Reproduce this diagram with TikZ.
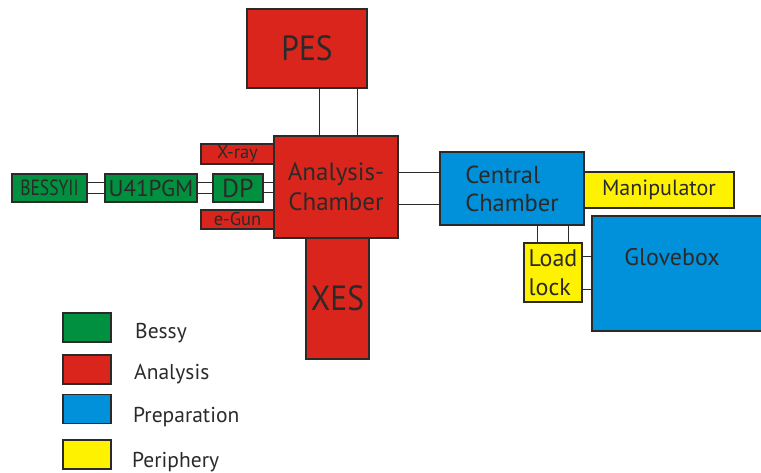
\documentclass[tikz,border=0pt]{standalone}
\usepackage{fontspec}
\setmainfont{PT Sans}
\newfontfamily\narrowfont[FakeStretch=0.8]{PT Sans}
\newfontfamily\bigfont[FakeStretch=0.9]{PT Sans}
\usetikzlibrary{calc}

\definecolor{bessygreen}{HTML}{00903F}
\definecolor{anared}{HTML}{DA251D}
\definecolor{prepblue}{HTML}{0091DA}
\definecolor{periyellow}{HTML}{FFF200}
\definecolor{ink}{HTML}{2B2A29}

\tikzset{
  box/.style={draw=ink, line width=1.3pt, inner sep=0pt, text=ink, align=center},
  bessy/.style={box, fill=bessygreen},
  analysis/.style={box, fill=anared},
  prep/.style={box, fill=prepblue},
  peri/.style={box, fill=periyellow},
  link/.style={draw=ink, line width=1pt},
  legend/.style={box, minimum width=48pt, minimum height=29pt},
  legtext/.style={anchor=base west, inner sep=0pt, text=ink, font=\fontsize{21.5}{24}\selectfont}
}

\begin{document}
\begin{tikzpicture}[x=1pt, y=-1pt]
    \useasboundingbox (0,0) rectangle (761,473);

    % Analysis part
    \node[analysis, minimum width=63pt, minimum height=121pt, font=\bigfont\fontsize{35}{37}\selectfont] (xes) at (337.5,298.5) {XES};
    \node[analysis, minimum width=120pt, minimum height=79pt, font=\bigfont\fontsize{35}{37}\selectfont] (pes) at (307,48.5) {PES};
    \node[analysis, minimum width=73pt, minimum height=20pt, font=\fontsize{18.5}{20}\selectfont] (xray) at (237.5,154) {X-ray};
    \node[analysis, minimum width=73pt, minimum height=19pt, font=\fontsize{18.5}{20}\selectfont] (egun) at (237.5,219.5) {e-Gun};
    \node[analysis, minimum width=124pt, minimum height=102pt, font=\fontsize{25}{30}\selectfont] (ac) at (336,187) {Analysis-\\Chamber};

    % Beamline
    \node[bessy, minimum width=75pt, minimum height=28pt, font=\narrowfont\fontsize{22}{24}\selectfont] (bessy) at (49.5,188) {BESSYII};
    \node[bessy, minimum width=92pt, minimum height=28pt, font=\fontsize{23}{25}\selectfont] (u41) at (151,188) {U41PGM};
    \node[bessy, minimum width=50pt, minimum height=28pt, font=\fontsize{26}{28}\selectfont] (dp) at (238,188) {DP};

    % Preparation and periphery
    \node[prep, minimum width=144pt, minimum height=73pt, align=left, font=\fontsize{24.5}{28}\selectfont] (cc) at (512,188.5) {Central\\Chamber};
    \node[peri, minimum width=150pt, minimum height=36pt, font=\fontsize{22}{24}\selectfont] (manip) at (659,190) {Manipulator};
    \node[peri, minimum width=58pt, minimum height=59pt, align=left, font=\fontsize{24}{29}\selectfont] (ll) at (553,272.5) {Load\\lock};
    \node[prep, minimum width=178pt, minimum height=115pt] (gb) at (681,273.5) {};
    \node[text=ink, font=\fontsize{24}{26}\selectfont] (gbtext) at (672,257) {Glovebox};

    % Connections
    \draw[link] ([xshift=12pt]pes.south) -- ([xshift=12pt]pes.south |- ac.north);
    \draw[link] ([xshift=50pt]pes.south) -- ([xshift=50pt]pes.south |- ac.north);
    \draw[link] ([yshift=5.5pt]bessy.east) -- ([yshift=5.5pt]bessy.east -| u41.west);
    \draw[link] ([yshift=-5.5pt]bessy.east) -- ([yshift=-5.5pt]bessy.east -| u41.west);
    \draw[link] ([yshift=5.5pt]u41.east) -- ([yshift=5.5pt]u41.east -| dp.west);
    \draw[link] ([yshift=-5.5pt]u41.east) -- ([yshift=-5.5pt]u41.east -| dp.west);
    \draw[link] ([yshift=5pt]dp.east) -- ([yshift=5pt]dp.east -| ac.west);
    \draw[link] ([yshift=-5pt]dp.east) -- ([yshift=-5pt]dp.east -| ac.west);
    \draw[link] ([yshift=14pt]ac.east) -- ([yshift=14pt]ac.east -| cc.west);
    \draw[link] ([yshift=-18pt]ac.east) -- ([yshift=-18pt]ac.east -| cc.west);
    \draw[link] ([xshift=-16pt]ll.north) -- ([xshift=-16pt]ll.north |- cc.south);
    \draw[link] ([xshift=15pt]ll.north) -- ([xshift=15pt]ll.north |- cc.south);
    \draw[link] ([yshift=15.5pt]ll.east) -- ([yshift=15.5pt]ll.east -| gb.west);
    \draw[link] ([yshift=-17.5pt]ll.east) -- ([yshift=-17.5pt]ll.east -| gb.west);

    % Legend
    \node[legend, fill=bessygreen] (leg1) at (87,327.5) {};
    \node[legend, fill=anared] (leg2) at (87,369.5) {};
    \node[legend, fill=prepblue] (leg3) at (87,409) {};
    \node[legend, fill=periyellow] (leg4) at (87,454.5) {};
    \node[legtext] (lab1) at (135,338) {Bessy};
    \node[legtext] (lab2) at (134,379) {Analysis};
    \node[legtext] (lab3) at (133,422) {Preparation};
    \node[legtext] (lab4) at (132,467) {Periphery};
\end{tikzpicture}
\end{document}
